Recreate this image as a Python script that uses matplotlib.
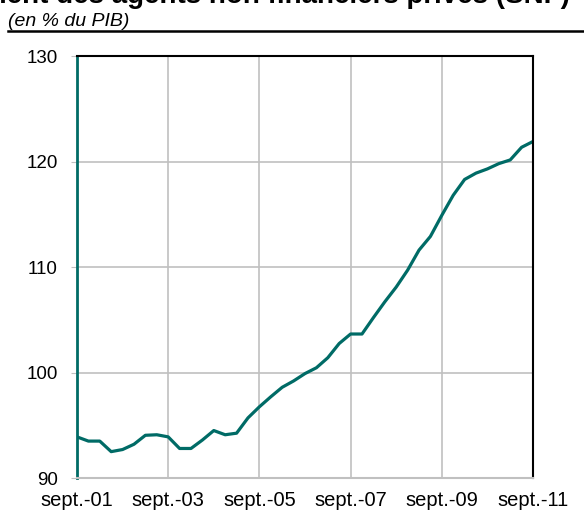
import matplotlib
matplotlib.use("Agg")
import matplotlib.pyplot as plt

plt.rcParams["font.family"] = ["Liberation Sans", "DejaVu Sans"]

# ── Data: private debt ratio, quarterly, sept.-01 .. sept.-11 ───────────────
debt = [93.9, 93.5, 93.5, 92.5, 92.7, 93.2, 94.05, 94.1, 93.9, 92.8,
        92.8, 93.6, 94.5, 94.1, 94.25, 95.7, 96.75, 97.7, 98.6, 99.2,
        99.9, 100.45, 101.4, 102.75, 103.65, 103.65, 105.2, 106.7, 108.1, 109.7,
        111.6, 112.9, 114.9, 116.8, 118.3, 118.9, 119.3, 119.8, 120.15, 121.35,
        121.9]
tick_labels = ["sept.-01", "sept.-03", "sept.-05", "sept.-07", "sept.-09", "sept.-11"]
y_ticks = [90, 100, 110, 120, 130]

LINE_COLOR = "#006b66"
GRID_COLOR = "#c0c0c0"

fig = plt.figure(figsize=(5.84, 5.13), dpi=100)
ax = fig.add_axes([0.1318, 0.0682, 0.7809, 0.8226])

quarters = list(range(len(debt)))
ax.plot(quarters, debt, color=LINE_COLOR, linewidth=2.3, solid_joinstyle="round")

ax.set_xlim(0, len(debt) - 1)
ax.set_ylim(90, 130)
ax.set_xticks(quarters[::8])
ax.set_xticklabels(tick_labels)
ax.set_yticks(y_ticks)

ax.grid(True, color=GRID_COLOR, linewidth=1.2)
ax.set_axisbelow(True)
ax.tick_params(axis="x", length=0, pad=9, labelsize=14.5)
ax.tick_params(axis="y", length=4, color=GRID_COLOR, pad=10, labelsize=13.5)

ax.spines["left"].set_color(LINE_COLOR)
ax.spines["left"].set_linewidth(2)
ax.spines["bottom"].set_color(GRID_COLOR)
ax.spines["bottom"].set_linewidth(1.5)
for side in ["top", "right"]:
    ax.spines[side].set_color("black")
    ax.spines[side].set_linewidth(1.5)

# title (cut off at the top in the original), subtitle and rule
fig.text(0.975, 1 - 3 / 513, "Endettement des agents non financiers privés (SNF)",
         ha="right", va="baseline", fontsize=20, fontweight="bold")
fig.text(8 / 584, 1 - 21 / 513, "(en % du PIB)", ha="left", va="center",
         fontsize=14, style="italic")
fig.add_artist(plt.Line2D([8 / 584, 1.0], [1 - 31 / 513, 1 - 31 / 513],
                          color="black", linewidth=1.8))

plt.savefig("out.png", dpi=100)
